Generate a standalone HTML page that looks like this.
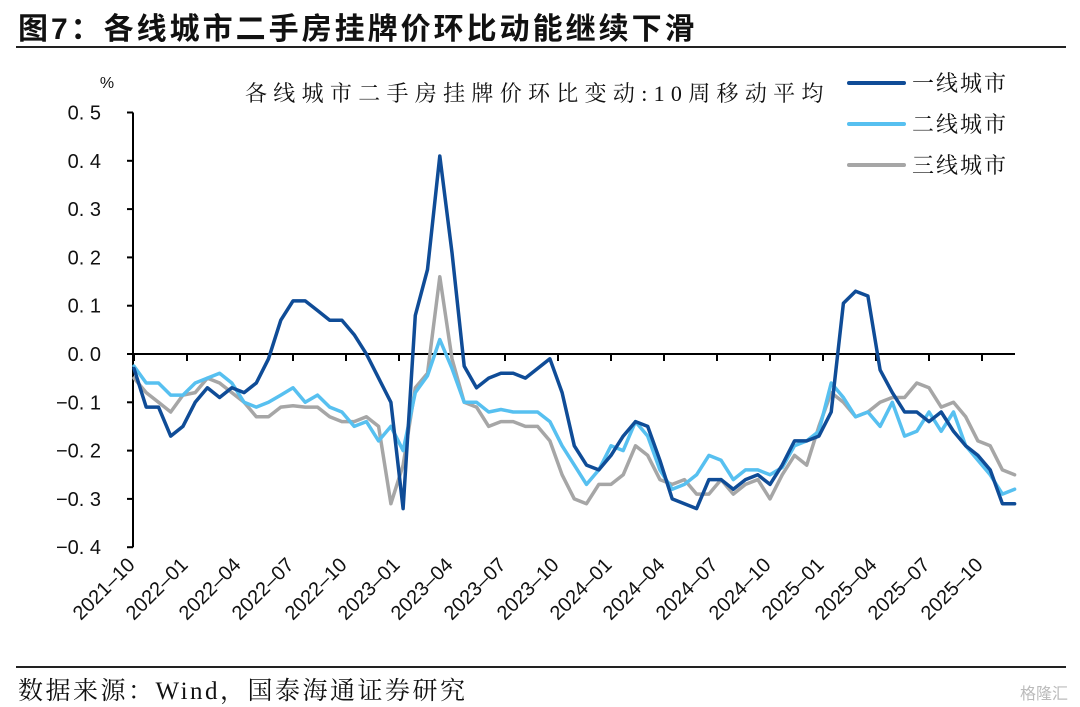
<!DOCTYPE html>
<html><head><meta charset="utf-8">
<style>
html,body{margin:0;padding:0;background:#fff;}
body{width:1080px;height:705px;position:relative;overflow:hidden;font-family:"Liberation Sans","Noto Sans CJK SC",sans-serif;}
#title{position:absolute;left:18px;top:4px;font-size:30px;font-weight:bold;color:#111;letter-spacing:3px;font-family:"Liberation Sans","Noto Sans CJK SC",sans-serif;}
#rule-top{position:absolute;left:16px;top:46px;width:1050px;height:2px;background:#222;}
#rule-bot{position:absolute;left:16px;top:666px;width:1050px;height:2px;background:#222;}
#source{position:absolute;left:18px;top:671px;font-size:25px;color:#111;letter-spacing:2.5px;font-family:"Liberation Serif","Noto Serif CJK SC",serif;}
#wm{position:absolute;right:12px;top:680px;font-size:16px;color:#bbb;}
svg{position:absolute;left:0;top:0;}
</style></head><body>
<div id="title">图7：各线城市二手房挂牌价环比动能继续下滑</div>
<div id="rule-top"></div>
<svg id="chart" width="1080" height="705"></svg>
<div id="rule-bot"></div>
<div id="source">数据来源：Wind，国泰海通证券研究</div>
<div id="wm">格隆汇</div>
<script>
const xLabels=["2021-10","2022-01","2022-04","2022-07","2022-10","2023-01","2023-04","2023-07","2023-10","2024-01","2024-04","2024-07","2024-10","2025-01","2025-04","2025-07","2025-10"];
const yTicks=[0.5,0.4,0.3,0.2,0.1,0.0,-0.1,-0.2,-0.3,-0.4];
const seriesNames=["一线城市","二线城市","三线城市"];
// samples every 3 weeks starting 2021-10
const tier1=[-0.03,-0.11,-0.11,-0.17,-0.15,-0.10,-0.07,-0.09,-0.07,-0.08,-0.06,-0.01,0.07,0.11,0.11,0.09,0.07,0.07,0.04,0.00,-0.05,-0.10,-0.32,0.08,0.175,0.41,0.21,-0.025,-0.07,-0.05,-0.04,-0.04,-0.05,-0.03,-0.01,-0.08,-0.19,-0.23,-0.24,-0.21,-0.17,-0.14,-0.15,-0.22,-0.30,-0.31,-0.32,-0.26,-0.26,-0.28,-0.26,-0.25,-0.27,-0.23,-0.18,-0.18,-0.17,-0.12,0.105,0.13,0.12,-0.033,-0.08,-0.12,-0.12,-0.14,-0.12,-0.16,-0.19,-0.21,-0.24,-0.31,-0.31];
const tier2=[-0.025,-0.06,-0.06,-0.085,-0.085,-0.06,-0.05,-0.04,-0.06,-0.10,-0.11,-0.10,-0.085,-0.07,-0.10,-0.085,-0.11,-0.12,-0.15,-0.14,-0.18,-0.15,-0.20,-0.08,-0.045,0.03,-0.03,-0.10,-0.10,-0.12,-0.115,-0.12,-0.12,-0.12,-0.14,-0.19,-0.23,-0.27,-0.24,-0.19,-0.20,-0.14,-0.17,-0.24,-0.28,-0.27,-0.25,-0.21,-0.22,-0.26,-0.24,-0.24,-0.25,-0.235,-0.19,-0.18,-0.16,-0.06,-0.09,-0.13,-0.12,-0.15,-0.10,-0.17,-0.16,-0.12,-0.16,-0.12,-0.19,-0.22,-0.25,-0.29,-0.28];
const tier3=[-0.05,-0.08,-0.10,-0.12,-0.085,-0.08,-0.05,-0.06,-0.08,-0.10,-0.13,-0.13,-0.11,-0.107,-0.11,-0.11,-0.13,-0.14,-0.14,-0.13,-0.15,-0.31,-0.23,-0.07,-0.04,0.16,-0.01,-0.10,-0.11,-0.15,-0.14,-0.14,-0.15,-0.15,-0.18,-0.25,-0.30,-0.31,-0.27,-0.27,-0.25,-0.19,-0.21,-0.26,-0.27,-0.26,-0.29,-0.29,-0.26,-0.29,-0.27,-0.26,-0.30,-0.25,-0.21,-0.23,-0.15,-0.08,-0.10,-0.13,-0.12,-0.10,-0.09,-0.09,-0.06,-0.07,-0.11,-0.10,-0.13,-0.18,-0.19,-0.24,-0.25];

const NS="http://www.w3.org/2000/svg";
const svg=document.getElementById('chart');
const X0=134, PX_PER_WEEK=4.077, PX_PER_QTR=53;
const xOfSample=i=>X0+i*3*PX_PER_WEEK;
const xOfQtr=k=>X0+k*PX_PER_QTR;
const yOf=v=>354-v*483;
function mk(tag,attrs){const e=document.createElementNS(NS,tag);for(const k in attrs)e.setAttribute(k,attrs[k]);svg.appendChild(e);return e;}

let ax=mk('line',{x1:133,y1:yOf(0.5),x2:133,y2:yOf(-0.4),stroke:'#000','stroke-width':2});


yTicks.forEach(v=>{
  const t=mk('line',{x1:127,y1:yOf(v),x2:133,y2:yOf(v),stroke:'#000','stroke-width':2});
  
  
  const l=mk('text',{x:101,y:yOf(v)+7,'text-anchor':'end','font-size':20,fill:'#111','font-family':'Liberation Sans, sans-serif'});
  l.textContent=(v<0?'−':'')+Math.abs(v).toFixed(1).replace('.','. ');
  
  
});
const pct=mk('text',{x:107,y:88,'text-anchor':'middle','font-size':16,fill:'#111','font-family':'Liberation Sans, sans-serif'});
pct.textContent='%';



const zl=mk('line',{x1:133,y1:yOf(0),x2:1015,y2:yOf(0),stroke:'#000','stroke-width':2});


xLabels.forEach((lab,k)=>{
  const x=xOfQtr(k);
  const t=mk('line',{x1:x,y1:yOf(0),x2:x,y2:yOf(0)+7,stroke:'#000','stroke-width':2});
  
  
  const l=mk('text',{x:x+2,y:566,'text-anchor':'end','font-size':20,fill:'#111','font-family':'Liberation Sans, sans-serif',transform:`rotate(-45 ${x+2} 566)`});
  l.textContent=lab.replace('-','–');
  
  
});

const cols=['#0F4C97','#57C0F0','#A6A6A6'];
const data=[tier1,tier2,tier3];
[2,1,0].forEach(s=>{
  const d=data[s].map((v,i)=>(i?'L':'M')+xOfSample(i).toFixed(1)+','+yOf(v).toFixed(1)).join(' ');
  const p=mk('path',{d:d,fill:'none',stroke:cols[s],'stroke-width':3.5,'stroke-linejoin':'round','stroke-linecap':'round'});
  
  
});

const st=mk('text',{x:245,y:101,'font-size':22,fill:'#111','font-family':'Liberation Serif, Noto Serif CJK SC, serif','letter-spacing':6.3});
st.textContent='各线城市二手房挂牌价环比变动:10周移动平均';



seriesNames.forEach((n,s)=>{
  const y=83+s*41;
  const l=mk('line',{x1:849,y1:y,x2:904,y2:y,stroke:cols[s],'stroke-width':4,'stroke-linecap':'round'});
  
  
  const t=mk('text',{x:912,y:y+8,'font-size':22,fill:'#111','font-family':'Liberation Serif, Noto Serif CJK SC, serif','letter-spacing':2});
  t.textContent=n;
  
  
});
</script>
</body></html>
